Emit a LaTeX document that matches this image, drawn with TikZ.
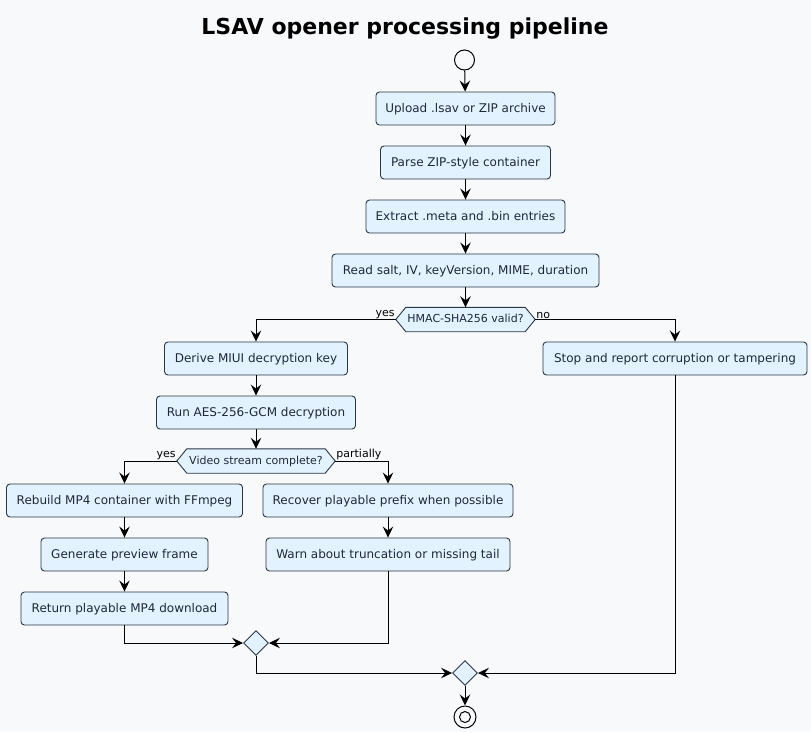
\documentclass[tikz,border=0pt]{standalone}
\usepackage{fontspec}
\setmainfont{DejaVu Sans}
\usetikzlibrary{arrows.meta,backgrounds,calc,shapes.geometric}
\pgfdeclarelayer{bgfill}
\pgfsetlayers{bgfill,background,main}
\definecolor{bg}{HTML}{F8F9FB}
\definecolor{boxfill}{HTML}{E2F2FE}
\definecolor{boxline}{HTML}{2A3645}
\definecolor{txt}{HTML}{1E293B}
\tikzset{
  act/.style={draw=boxline, fill=boxfill, rounded corners=3.5pt, line width=0.9pt,
    minimum height=33pt, inner xsep=4pt, text height=9.5pt, text depth=2.5pt,
    font=\fontsize{12}{14}\selectfont, text=txt},
  dec/.style={inner xsep=0pt, inner ysep=0pt, minimum height=24pt, text height=8.5pt, text depth=2.3pt,
    font=\fontsize{11}{13}\selectfont, text=txt},
  hexa/.style={draw=boxline, fill=boxfill, line width=0.9pt},
  mergenode/.style={diamond, draw=boxline, fill=boxfill, line width=0.9pt, minimum width=25pt, minimum height=25pt, inner sep=0pt},
  flow/.style={draw=black, line width=1pt, -{Stealth[length=11pt,width=10.5pt,inset=4pt]}},
  lab/.style={font=\fontsize{11}{13}\selectfont, text=black, inner sep=1pt},
  startnode/.style={circle, draw=black, fill=bg, line width=1pt, minimum size=20pt, inner sep=0pt},
  endnode/.style={circle, draw=black, fill=bg, line width=1pt, minimum size=22pt, inner sep=0pt},
}
\begin{document}
\begin{tikzpicture}[x=1pt,y=-1pt]
\begin{pgfonlayer}{bgfill}
\fill[bg] (0,0) rectangle (811,732);
\end{pgfonlayer}
\useasboundingbox (0,0) rectangle (811,732);
\node[font=\bfseries\fontsize{22}{26}\selectfont, text=black] (title) at (405,29) {LSAV opener processing pipeline};

\node[startnode] (start) at (464.5,60) {};
\node[act, minimum width=179pt] (b1) at (465.5,108.5) {Upload .lsav or ZIP archive};
\node[act, minimum width=170pt] (b2) at (465.5,162.5) {Parse ZIP-style container};
\node[act, minimum width=199pt] (b3) at (465.5,216.5) {Extract .meta and .bin entries};
\node[act, minimum width=267pt] (b4) at (465.5,270.5) {Read salt, IV, keyVersion, MIME, duration};
\node[dec, minimum width=119pt] (d1) at (465.5,319.5) {HMAC-SHA256 valid?};
\coordinate (d1w) at ($(d1.west)+(-10,0)$);
\coordinate (d1e) at ($(d1.east)+(10,0)$);
\begin{pgfonlayer}{background}
\draw[hexa] (d1w) -- (d1.north west) -- (d1.north east) -- (d1e) -- (d1.south east) -- (d1.south west) -- cycle;
\end{pgfonlayer}

\node[act, minimum width=183pt] (b5) at (256,358.5) {Derive MIUI decryption key};
\node[act, minimum width=264pt] (stop) at (675,358.5) {Stop and report corruption or tampering};
\node[act, minimum width=199pt] (b6) at (256,412.5) {Run AES-256-GCM decryption};
\node[dec, minimum width=138pt] (d2) at (256,461) {Video stream complete?};
\coordinate (d2w) at ($(d2.west)+(-10,0)$);
\coordinate (d2e) at ($(d2.east)+(10,0)$);
\begin{pgfonlayer}{background}
\draw[hexa] (d2w) -- (d2.north west) -- (d2.north east) -- (d2e) -- (d2.south east) -- (d2.south west) -- cycle;
\end{pgfonlayer}

\node[act, minimum width=236pt] (b7) at (124.5,500.5) {Rebuild MP4 container with FFmpeg};
\node[act, minimum width=167pt] (b8) at (124.5,554.5) {Generate preview frame};
\node[act, minimum width=207pt] (b9) at (124.5,608.5) {Return playable MP4 download};
\node[act, minimum width=250pt] (b10) at (388,500.5) {Recover playable prefix when possible};
\node[act, minimum width=244pt] (b11) at (388,554.5) {Warn about truncation or missing tail};

\node[mergenode] (m1) at (256,643) {};
\node[mergenode] (m2) at (465,673) {};
\node[endnode] (end) at (465,717) {};
\node[circle, draw=black, line width=1pt, minimum size=11pt, inner sep=0pt] (endin) at (end.center) {};

\draw[flow] (start) -- (b1);
\draw[flow] (b1) -- (b2);
\draw[flow] (b2) -- (b3);
\draw[flow] (b3) -- (b4);
\draw[flow] (b4) -- (d1);
\draw[flow] (d1w) -| (b5);
\draw[flow] (d1e) -| (stop);
\node[lab, anchor=south east] at (d1w) {yes};
\node[lab, anchor=south west] at (d1e) {no};
\draw[flow] (b5) -- (b6);
\draw[flow] (b6) -- (d2);
\draw[flow] (d2w) -| (b7);
\draw[flow] (d2e) -| (b10);
\node[lab, anchor=south east] at (d2w) {yes};
\node[lab, anchor=south west] at (d2e) {partially};
\draw[flow] (b7) -- (b8);
\draw[flow] (b8) -- (b9);
\draw[flow] (b10) -- (b11);
\draw[flow] (b9) |- (m1);
\draw[flow] (b11) |- (m1);
\draw[flow] (m1) |- (m2);
\draw[flow] (stop) |- (m2);
\draw[flow] (m2) -- (end);
\end{tikzpicture}
\end{document}
